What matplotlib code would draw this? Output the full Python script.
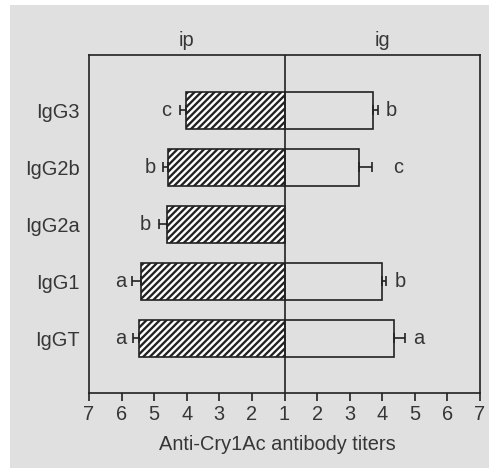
import matplotlib.pyplot as plt
from matplotlib.patches import Rectangle
import numpy as np

plt.rcParams['font.family'] = ['Liberation Sans', 'DejaVu Sans']
plt.rcParams['hatch.linewidth'] = 1.4

# data (titer scale, 1 = centre line)
isotypes = ['IgGT', 'IgG1', 'IgG2a', 'IgG2b', 'IgG3']
ip_titer = [5.46, 5.40, 4.60, 4.58, 4.02]
ip_err = [0.18, 0.28, 0.26, 0.14, 0.19]
ip_letters = ['a', 'a', 'b', 'b', 'c']
ip_letter_at = [6.03, 6.03, 5.26, 5.13, 4.62]
ig_titer = [4.36, 3.98, 1.0, 3.28, 3.73]
ig_err = [0.34, 0.15, 0.0, 0.42, 0.13]
ig_letters = ['a', 'b', '', 'c', 'b']
ig_letter_at = [5.11, 4.55, 1.0, 4.48, 4.29]
tick_vals = [7, 6, 5, 4, 3, 2, 1, 2, 3, 4, 5, 6, 7]

BG = '#e0e0e0'
TXT = '#363636'
LINE = '#222222'

dpi = 120
fig = plt.figure(figsize=(490 / dpi, 468 / dpi), dpi=dpi)
fig.patch.set_facecolor('white')
fig.patches.append(Rectangle((10 / 490, 0), 1, 463 / 468, transform=fig.transFigure,
                             facecolor=BG, edgecolor='none', zorder=-10))

ax = fig.add_axes([89 / 490, 1 - 393 / 468, 391 / 490, 338 / 468])
ax.set_facecolor(BG)

y = np.arange(len(isotypes))
ip = np.array(ip_titer) - 1
ig = np.array(ig_titer) - 1

# ip bars to the left, hatched
ax.barh(y, -ip, height=0.65, color='white', edgecolor=LINE, hatch='//////',
        linewidth=1.0, zorder=2)
ax.errorbar(-ip, y, xerr=[ip_err, np.zeros(len(y))], fmt='none', ecolor=LINE,
            elinewidth=1.0, capsize=3, capthick=1.0, zorder=3)

# ig bars to the right, open
has_ig = ig > 0
ax.barh(y[has_ig], ig[has_ig], height=0.65, color=BG, edgecolor=LINE,
        linewidth=1.0, zorder=2)
ax.errorbar(ig[has_ig], y[has_ig],
            xerr=[np.zeros(has_ig.sum()), np.array(ig_err)[has_ig]],
            fmt='none', ecolor=LINE, elinewidth=1.0, capsize=3, capthick=1.0, zorder=3)

for yi, lab, xv in zip(y, ip_letters, ip_letter_at):
    ax.text(-(xv - 1), yi, lab, ha='center', va='center', fontsize=12, color=TXT)
for yi, lab, xv in zip(y, ig_letters, ig_letter_at):
    if lab:
        ax.text(xv - 1, yi, lab, ha='center', va='center', fontsize=12, color=TXT)

ax.axvline(0, color=LINE, linewidth=1.0, zorder=4)

ax.set_xlim(-6, 6)
ax.set_ylim(-0.965, 4.97)
ax.set_xticks(np.arange(-6, 7))
ax.set_xticklabels([str(v) for v in tick_vals])
ax.set_yticks(y)
ax.set_yticklabels(isotypes)
ax.tick_params(axis='x', length=4.5, width=1.0, color=LINE, pad=3,
               labelsize=12, labelcolor=TXT)
ax.tick_params(axis='y', length=0, pad=5.5, labelsize=12, labelcolor=TXT)
for s in ax.spines.values():
    s.set_color(LINE)
    s.set_linewidth(1.0)

ax.text(-3, 1.027, 'ip', transform=ax.get_xaxis_transform(), ha='center',
        va='baseline', fontsize=12, color=TXT)
ax.text(3, 1.027, 'ig', transform=ax.get_xaxis_transform(), ha='center',
        va='baseline', fontsize=12, color=TXT)
fig.text(277.5 / 490, 1 - 450 / 468, 'Anti-Cry1Ac antibody titers', ha='center',
         va='baseline', fontsize=12, color=TXT)

fig.savefig('out.png', dpi=dpi)
